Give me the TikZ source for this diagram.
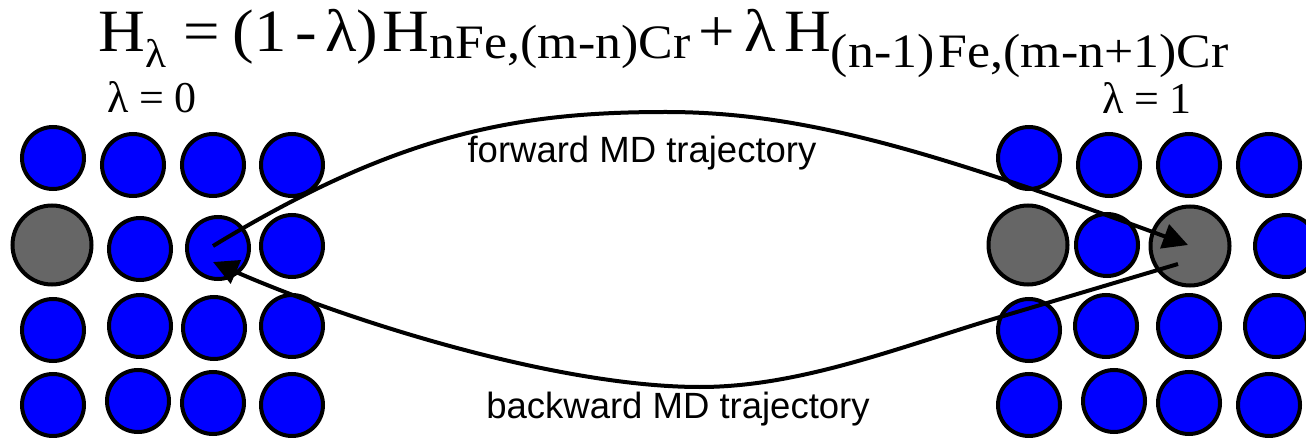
\documentclass[tikz,border=0pt]{standalone}
\usepackage{fontspec}
\setmainfont{Liberation Serif}
\newfontfamily\sansf{Liberation Sans}
\usetikzlibrary{arrows.meta}
\definecolor{vacgray}{RGB}{102,102,102}
\definecolor{atomblue}{RGB}{0,0,255}
\newcommand\lowsub[2]{\raisebox{-#1pt}{\fontsize{48}{48}\selectfont #2}}
\begin{document}
\begin{tikzpicture}[x=1pt,y=-1pt,
  atom/.style={circle,draw=black,line width=4pt,fill=atomblue,minimum size=62pt,inner sep=0pt},
  vac/.style={atom,fill=vacgray,minimum size=79pt},
  traj/.style={line width=4pt},
  tip/.style={-{Triangle[length=25pt,width=25pt]}},
  lbl/.style={font=\sansf\fontsize{36.5}{36.5}\selectfont,inner sep=0pt,anchor=base},
  lam/.style={font=\fontsize{44}{44}\selectfont,inner sep=0pt,anchor=base}]
\clip (0,0) rectangle (1306,438);
% left lattice (lambda = 0)
\node[atom] (L11) at (53,158) {};
\node[atom] (L12) at (133,165) {};
\node[atom] (L13) at (213,165) {};
\node[atom] (L14) at (292,165) {};
\node[vac]  (L21) at (52,245) {};
\node[atom] (L22) at (140,249) {};
\node[atom] (L23) at (218,248) {};
\node[atom] (L24) at (292,246) {};
\node[atom] (L31) at (53,330) {};
\node[atom] (L32) at (140,326) {};
\node[atom] (L33) at (214,328) {};
\node[atom] (L34) at (292,326) {};
\node[atom] (L41) at (53,405) {};
\node[atom] (L42) at (138,401) {};
\node[atom] (L43) at (213,403) {};
\node[atom] (L44) at (292,405) {};
% right lattice (lambda = 1)
\node[atom] (R11) at (1029,158) {};
\node[atom] (R12) at (1109,165) {};
\node[atom] (R13) at (1189,165) {};
\node[atom] (R14) at (1269,165) {};
\node[vac]  (R21) at (1028,245) {};
\node[atom] (R22) at (1107,245) {};
\node[vac]  (R23) at (1190,246) {};
\node[atom] (R24) at (1286,246) {};
\node[atom] (R31) at (1029,330) {};
\node[atom] (R32) at (1106,326) {};
\node[atom] (R33) at (1189,326) {};
\node[atom] (R34) at (1276,326) {};
\node[atom] (R41) at (1029,405) {};
\node[atom] (R42) at (1114,401) {};
\node[atom] (R43) at (1189,403) {};
\node[atom] (R44) at (1269,405) {};
% formula and labels
\node[inner sep=0pt,anchor=base west,xscale=1.08,font=\fontsize{60}{60}\selectfont] (formula) at (98,52)
  {H\lowsub{16}{\fontsize{40}{40}\selectfont λ}\hspace{16pt}=\hspace{12pt}(1\hspace{8pt}-\hspace{8pt}λ)\hspace{4pt}H\lowsub{7}{nFe,(m-n)Cr}\hspace{8pt}+\hspace{8pt}λ\hspace{8pt}H\lowsub{16}{(n-1)\hspace{4pt}Fe,(m-n+1)Cr}};
\node[lam] (lam0) at (152,113) {λ\hspace{10pt}=\hspace{10pt}0};
\node[lam] (lam1) at (1147,114) {λ\hspace{10pt}=\hspace{10pt}1};
\node[lbl] (fwd) at (642,163) {forward MD trajectory};
\node[lbl] (bwd) at (678,418) {backward MD trajectory};
% trajectories
\coordinate (fs) at (213,246);
\coordinate (ftop) at (666,112);
\coordinate (fe) at (1188,245);
\coordinate (bs) at (1178,264);
\coordinate (bbend) at (1000,317);
\coordinate (bbot) at (700,387);
\coordinate (be) at (213,262);
\draw[traj,tip] (fs) .. controls (400,132) and (520,112) .. (ftop)
  .. controls (800,112) and (928,149) .. (fe);
\draw[traj,tip] (bs) -- (bbend) .. controls (900,347) and (800,387) .. (bbot)
  .. controls (560,387) and (353,323) .. (be);
\end{tikzpicture}
\end{document}
